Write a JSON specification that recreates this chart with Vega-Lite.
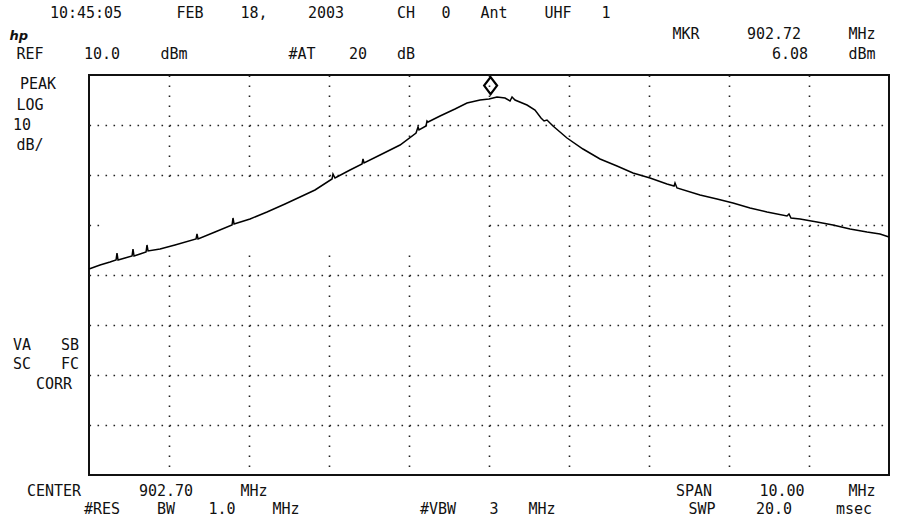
{
  "$schema": "https://vega.github.io/schema/vega-lite/v6.json",
  "width": 800,
  "height": 400,
  "autosize": {"type": "none"},
  "padding": {"left": 89, "top": 75, "right": 16, "bottom": 48},
  "background": "white",
  "config": {"view": {"stroke": "#111", "strokeWidth": 2}},
  "datasets": {
    "trace": [
      {"freq_mhz": 897.700, "level_dbm": -28.8},
      {"freq_mhz": 897.838, "level_dbm": -28.0},
      {"freq_mhz": 897.963, "level_dbm": -27.4},
      {"freq_mhz": 898.038, "level_dbm": -27.0},
      {"freq_mhz": 898.050, "level_dbm": -25.6},
      {"freq_mhz": 898.063, "level_dbm": -27.0},
      {"freq_mhz": 898.150, "level_dbm": -26.6},
      {"freq_mhz": 898.238, "level_dbm": -26.2},
      {"freq_mhz": 898.250, "level_dbm": -24.8},
      {"freq_mhz": 898.263, "level_dbm": -26.2},
      {"freq_mhz": 898.338, "level_dbm": -25.8},
      {"freq_mhz": 898.413, "level_dbm": -25.4},
      {"freq_mhz": 898.425, "level_dbm": -24.0},
      {"freq_mhz": 898.438, "level_dbm": -25.2},
      {"freq_mhz": 898.588, "level_dbm": -24.8},
      {"freq_mhz": 898.775, "level_dbm": -24.0},
      {"freq_mhz": 899.038, "level_dbm": -22.8},
      {"freq_mhz": 899.050, "level_dbm": -21.8},
      {"freq_mhz": 899.063, "level_dbm": -22.8},
      {"freq_mhz": 899.275, "level_dbm": -21.4},
      {"freq_mhz": 899.488, "level_dbm": -20.0},
      {"freq_mhz": 899.500, "level_dbm": -18.6},
      {"freq_mhz": 899.513, "level_dbm": -19.8},
      {"freq_mhz": 899.713, "level_dbm": -18.8},
      {"freq_mhz": 899.925, "level_dbm": -17.4},
      {"freq_mhz": 900.150, "level_dbm": -15.8},
      {"freq_mhz": 900.338, "level_dbm": -14.4},
      {"freq_mhz": 900.525, "level_dbm": -13.0},
      {"freq_mhz": 900.738, "level_dbm": -10.8},
      {"freq_mhz": 900.750, "level_dbm": -9.8},
      {"freq_mhz": 900.775, "level_dbm": -10.6},
      {"freq_mhz": 900.963, "level_dbm": -9.0},
      {"freq_mhz": 901.113, "level_dbm": -7.8},
      {"freq_mhz": 901.125, "level_dbm": -6.8},
      {"freq_mhz": 901.138, "level_dbm": -7.6},
      {"freq_mhz": 901.338, "level_dbm": -6.0},
      {"freq_mhz": 901.588, "level_dbm": -4.0},
      {"freq_mhz": 901.788, "level_dbm": -1.6},
      {"freq_mhz": 901.813, "level_dbm": -0.4},
      {"freq_mhz": 901.825, "level_dbm": -1.0},
      {"freq_mhz": 901.913, "level_dbm": -0.2},
      {"freq_mhz": 901.925, "level_dbm": 0.8},
      {"freq_mhz": 901.938, "level_dbm": 0.6},
      {"freq_mhz": 902.088, "level_dbm": 1.8},
      {"freq_mhz": 902.275, "level_dbm": 3.2},
      {"freq_mhz": 902.425, "level_dbm": 4.4},
      {"freq_mhz": 902.588, "level_dbm": 5.0},
      {"freq_mhz": 902.700, "level_dbm": 5.2},
      {"freq_mhz": 902.800, "level_dbm": 5.6},
      {"freq_mhz": 902.900, "level_dbm": 5.4},
      {"freq_mhz": 902.963, "level_dbm": 4.8},
      {"freq_mhz": 902.988, "level_dbm": 5.6},
      {"freq_mhz": 903.025, "level_dbm": 5.0},
      {"freq_mhz": 903.175, "level_dbm": 4.0},
      {"freq_mhz": 903.275, "level_dbm": 3.0},
      {"freq_mhz": 903.350, "level_dbm": 1.4},
      {"freq_mhz": 903.388, "level_dbm": 0.8},
      {"freq_mhz": 903.425, "level_dbm": 1.0},
      {"freq_mhz": 903.500, "level_dbm": -0.2},
      {"freq_mhz": 903.675, "level_dbm": -2.6},
      {"freq_mhz": 903.875, "level_dbm": -4.8},
      {"freq_mhz": 904.088, "level_dbm": -6.8},
      {"freq_mhz": 904.300, "level_dbm": -8.2},
      {"freq_mhz": 904.500, "level_dbm": -9.6},
      {"freq_mhz": 904.713, "level_dbm": -10.6},
      {"freq_mhz": 904.925, "level_dbm": -11.8},
      {"freq_mhz": 905.013, "level_dbm": -12.2},
      {"freq_mhz": 905.025, "level_dbm": -11.6},
      {"freq_mhz": 905.050, "level_dbm": -12.6},
      {"freq_mhz": 905.338, "level_dbm": -14.0},
      {"freq_mhz": 905.550, "level_dbm": -14.8},
      {"freq_mhz": 905.750, "level_dbm": -15.6},
      {"freq_mhz": 905.963, "level_dbm": -16.6},
      {"freq_mhz": 906.175, "level_dbm": -17.4},
      {"freq_mhz": 906.425, "level_dbm": -18.2},
      {"freq_mhz": 906.450, "level_dbm": -17.8},
      {"freq_mhz": 906.475, "level_dbm": -18.6},
      {"freq_mhz": 906.588, "level_dbm": -18.8},
      {"freq_mhz": 906.800, "level_dbm": -19.4},
      {"freq_mhz": 907.000, "level_dbm": -20.0},
      {"freq_mhz": 907.213, "level_dbm": -20.8},
      {"freq_mhz": 907.425, "level_dbm": -21.4},
      {"freq_mhz": 907.588, "level_dbm": -21.8},
      {"freq_mhz": 907.700, "level_dbm": -22.4}
    ],
    "marker": [{"freq_mhz": 902.72, "level_dbm": 6.08}],
    "labels": [
      {"text": "10:45:05", "col": 4.5, "line": 21.4},
      {"text": "FEB", "col": 11, "line": 21.4},
      {"text": "18,", "col": 15, "line": 21.4},
      {"text": "2003", "col": 19.5, "line": 21.4},
      {"text": "CH", "col": 24.5, "line": 21.4},
      {"text": "0", "col": 27, "line": 21.4},
      {"text": "Ant", "col": 30, "line": 21.4},
      {"text": "UHF", "col": 34, "line": 21.4},
      {"text": "1", "col": 37, "line": 21.4},
      {"text": "MKR", "col": 42, "line": 17.2},
      {"text": "902.72", "col": 47.5, "line": 17.2},
      {"text": "MHz", "col": 53, "line": 17.2},
      {"text": "REF", "col": 1, "line": 13.2},
      {"text": "10.0", "col": 5.5, "line": 13.2},
      {"text": "dBm", "col": 10, "line": 13.2},
      {"text": "#AT", "col": 18, "line": 13.2},
      {"text": "20", "col": 21.5, "line": 13.2},
      {"text": "dB", "col": 24.5, "line": 13.2},
      {"text": "6.08", "col": 48.5, "line": 13.2},
      {"text": "dBm", "col": 53, "line": 13.2},
      {"text": "PEAK", "col": 1.5, "line": 7.2},
      {"text": "LOG", "col": 1, "line": 3.0},
      {"text": "10", "col": 0.5, "line": -1.0},
      {"text": "dB/", "col": 1, "line": -5.0},
      {"text": "VA", "col": 0.5, "line": -45.0},
      {"text": "SB", "col": 3.5, "line": -45.0},
      {"text": "SC", "col": 0.5, "line": -48.8},
      {"text": "FC", "col": 3.5, "line": -48.8},
      {"text": "CORR", "col": 2.5, "line": -52.8},
      {"text": "CENTER", "col": 2.5, "line": -74.2},
      {"text": "902.70", "col": 9.5, "line": -74.2},
      {"text": "MHz", "col": 15, "line": -74.2},
      {"text": "SPAN", "col": 42.5, "line": -74.2},
      {"text": "10.00", "col": 48, "line": -74.2},
      {"text": "MHz", "col": 53, "line": -74.2},
      {"text": "#RES", "col": 5.5, "line": -77.7},
      {"text": "BW", "col": 9.5, "line": -77.7},
      {"text": "1.0", "col": 13, "line": -77.7},
      {"text": "MHz", "col": 17, "line": -77.7},
      {"text": "#VBW", "col": 26.5, "line": -77.7},
      {"text": "3", "col": 30, "line": -77.7},
      {"text": "MHz", "col": 33, "line": -77.7},
      {"text": "SWP", "col": 43, "line": -77.7},
      {"text": "20.0", "col": 47.5, "line": -77.7},
      {"text": "msec", "col": 52.5, "line": -77.7}
    ],
    "logo": [{"text": "hp", "col": 0.3, "line": 17.0}]
  },
  "resolve": {"scale": {"x": "independent", "y": "independent"}},
  "layer": [
    {
      "layer": [
        {
          "data": {"values": [{}]},
          "mark": {"type": "rect", "fill": "white", "stroke": null},
          "encoding": {
            "x": {"datum": 897.84, "type": "quantitative",
              "scale": {"domain": [897.7, 907.7], "nice": false, "zero": false},
              "axis": {"values": [898.7, 899.7, 900.7, 901.7, 902.7, 903.7, 904.7, 905.7, 906.7], "grid": true, "gridDash": [1.6, 8.4], "gridColor": "#222", "gridWidth": 1.6, "gridOpacity": 1, "labels": false, "ticks": false, "domain": false, "title": null}},
            "x2": {"datum": 902.65},
            "y": {"datum": -10.6, "type": "quantitative",
              "scale": {"domain": [-70, 10], "nice": false, "zero": false},
              "axis": {"values": [0, -10, -20, -30, -40, -50, -60], "grid": true, "gridDash": [1.6, 6.4], "gridColor": "#222", "gridWidth": 1.6, "gridOpacity": 1, "labels": false, "ticks": false, "domain": false, "title": null}},
            "y2": {"datum": -25}
          }
        },
        {
          "data": {"name": "trace"},
          "mark": {"type": "line", "color": "#000", "strokeWidth": 1.5, "interpolate": "linear"},
          "encoding": {
            "x": {"field": "freq_mhz", "type": "quantitative",
              "scale": {"domain": [897.7, 907.7], "nice": false, "zero": false},
              "axis": {"values": [898.7, 899.7, 900.7, 901.7, 902.7, 903.7, 904.7, 905.7, 906.7], "grid": true, "gridDash": [1.6, 8.4], "gridColor": "#222", "gridWidth": 1.6, "gridOpacity": 1, "labels": false, "ticks": false, "domain": false, "title": null}},
            "y": {"field": "level_dbm", "type": "quantitative",
              "scale": {"domain": [-70, 10], "nice": false, "zero": false},
              "axis": {"values": [0, -10, -20, -30, -40, -50, -60], "grid": true, "gridDash": [1.6, 6.4], "gridColor": "#222", "gridWidth": 1.6, "gridOpacity": 1, "labels": false, "ticks": false, "domain": false, "title": null}}
          }
        },
        {
          "data": {"name": "marker"},
          "mark": {"type": "point", "shape": "M0,-1L0.76,0L0,1L-0.76,0Z", "size": 289, "filled": false, "stroke": "#000", "strokeWidth": 2.2, "yOffset": -9, "opacity": 1},
          "encoding": {
            "x": {"field": "freq_mhz", "type": "quantitative"},
            "y": {"field": "level_dbm", "type": "quantitative"}
          }
        }
      ]
    },
    {
      "data": {"name": "labels"},
      "mark": {"type": "text", "align": "center", "baseline": "alphabetic", "font": "DejaVu Sans Mono", "fontSize": 15, "color": "#111"},
      "encoding": {
        "x": {"field": "col", "type": "quantitative", "scale": {"domain": [4.6875, 54.6875], "nice": false, "zero": false}, "axis": null},
        "y": {"field": "line", "type": "quantitative", "scale": {"domain": [-70, 10], "nice": false, "zero": false}, "axis": null},
        "text": {"field": "text", "type": "nominal"}
      }
    },
    {
      "data": {"name": "logo"},
      "mark": {"type": "text", "align": "center", "baseline": "alphabetic", "font": "DejaVu Sans", "fontSize": 13, "fontStyle": "italic", "fontWeight": "bold", "color": "#111"},
      "encoding": {
        "x": {"field": "col", "type": "quantitative", "scale": {"domain": [4.6875, 54.6875], "nice": false, "zero": false}, "axis": null},
        "y": {"field": "line", "type": "quantitative", "scale": {"domain": [-70, 10], "nice": false, "zero": false}, "axis": null},
        "text": {"field": "text", "type": "nominal"}
      }
    }
  ]
}
